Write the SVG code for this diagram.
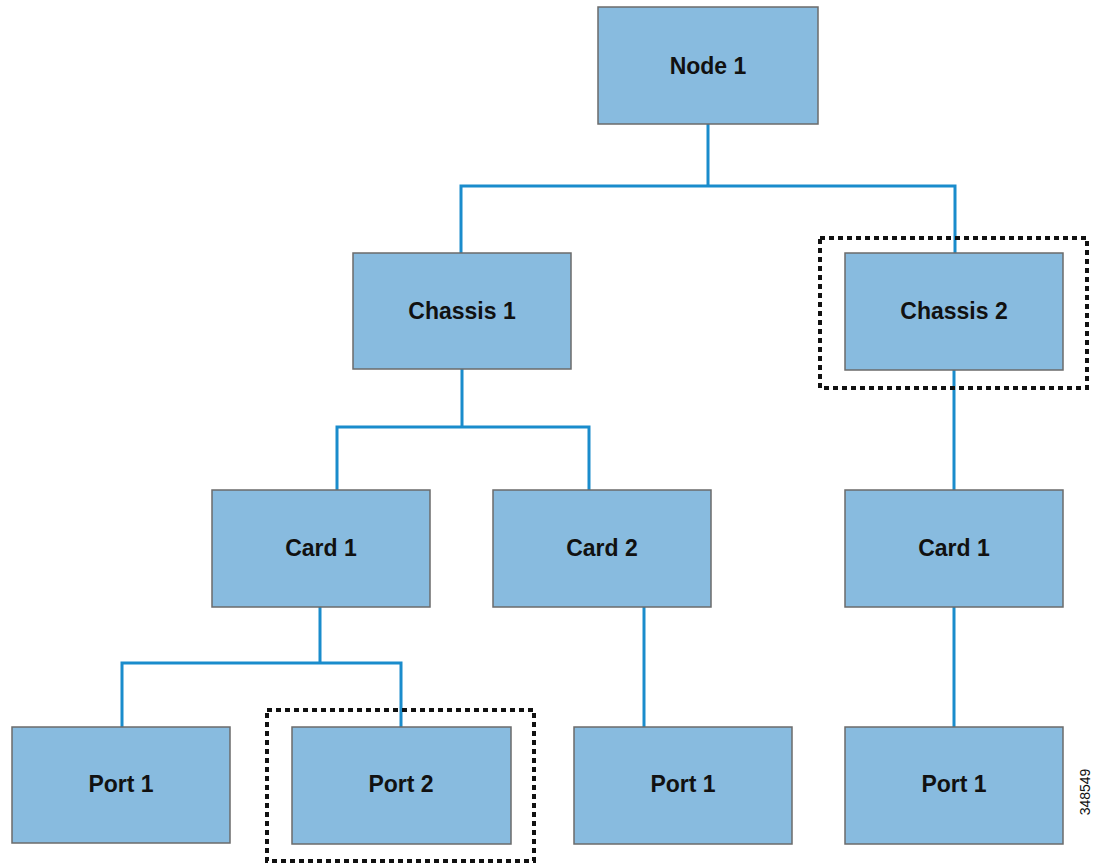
<svg xmlns="http://www.w3.org/2000/svg" width="1096" height="863" viewBox="0 0 1096 863">
<style>
.box{fill:#88bbdf;stroke:#6b6b6b;stroke-width:1.5}
.lbl{font-family:"Liberation Sans",Arial,sans-serif;font-weight:bold;font-size:23px;fill:#111;text-anchor:middle;dominant-baseline:central}
.ln{fill:none;stroke:#1a8ccc;stroke-width:3;stroke-linejoin:miter}
.sel{fill:none;stroke:#111;stroke-width:4;stroke-dasharray:5 4}
</style>
<rect width="1096" height="863" fill="#fff"/>
<g id="connectors">
<path class="ln" d="M708 124V186H461V253M708 186H955V253"/>
<path class="ln" d="M462 369V427H337V490M462 427H589V490"/>
<path class="ln" d="M320 607V663H122V727M320 663H401V727"/>
<path class="ln" d="M644 607V727"/>
<path class="ln" d="M954 370V490M954 607V727"/>
</g>
<g id="node1"><rect class="box" x="598" y="7" width="220" height="117"/><text class="lbl" x="708" y="66">Node 1</text></g>
<g id="chassis1"><rect class="box" x="353" y="253" width="218" height="116"/><text class="lbl" x="462" y="311">Chassis 1</text></g>
<g id="chassis2"><rect class="box" x="845" y="253" width="218" height="117"/><text class="lbl" x="954" y="311">Chassis 2</text></g>
<g id="card1a"><rect class="box" x="212" y="490" width="218" height="117"/><text class="lbl" x="321" y="548">Card 1</text></g>
<g id="card2"><rect class="box" x="493" y="490" width="218" height="117"/><text class="lbl" x="602" y="548">Card 2</text></g>
<g id="card1b"><rect class="box" x="845" y="490" width="218" height="117"/><text class="lbl" x="954" y="548">Card 1</text></g>
<g id="port1a"><rect class="box" x="12" y="727" width="218" height="116"/><text class="lbl" x="121" y="784">Port 1</text></g>
<g id="port2"><rect class="box" x="292" y="727" width="219" height="117"/><text class="lbl" x="401" y="784">Port 2</text></g>
<g id="port1b"><rect class="box" x="574" y="727" width="218" height="117"/><text class="lbl" x="683" y="784">Port 1</text></g>
<g id="port1c"><rect class="box" x="845" y="727" width="218" height="117"/><text class="lbl" x="954" y="784">Port 1</text></g>
<g id="selections">
<rect class="sel" x="820" y="238" width="267" height="150"/>
<rect class="sel" x="267" y="710" width="267" height="151"/>
</g>
<text x="1090" y="792" transform="rotate(-90 1090 792)" font-family="'Liberation Sans',Arial,sans-serif" font-size="14" fill="#111" text-anchor="middle">348549</text>
</svg>
